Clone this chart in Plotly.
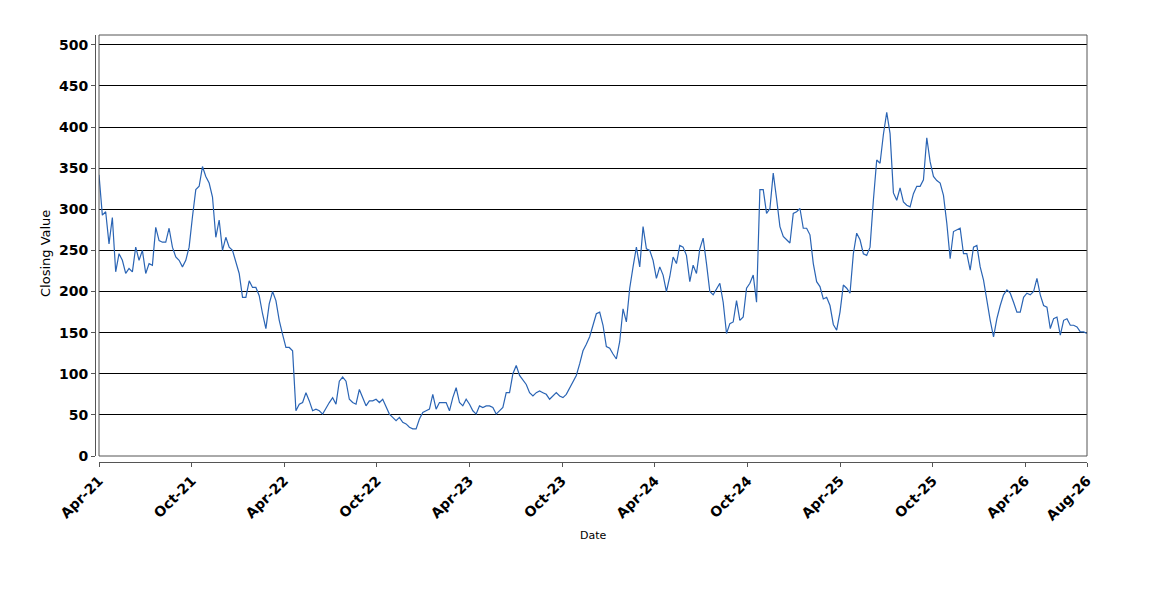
import pandas as pd
import plotly.graph_objects as go

# Closing values, evenly spaced from Apr-2021 to Aug-2026
closing_values = [
    # Apr-21 .. Jan-22
    342, 293, 297, 258, 290, 224, 246, 238, 222, 228, 224, 254, 238, 250, 222, 234,
    232, 278, 262, 260, 260, 277, 254, 242, 238, 230, 238, 254, 291, 324, 328, 352,
    340, 332, 315, 266, 287, 250, 266, 254, 250, 236, 222, 193, 193, 213, 205, 205,
    # Jan-22 .. Dec-22
    195, 173, 155, 185, 200, 189, 165, 148, 132, 132, 128, 55, 63, 65, 77, 67,
    55, 57, 55, 51, 59, 65, 71, 63, 91, 96, 91, 69, 65, 63, 81, 71,
    61, 67, 67, 69, 65, 69, 59, 51, 47, 43, 47, 41, 39, 35, 33, 33,
    45, 53, 55, 57,
    # Dec-22 .. Oct-23
    75, 57, 65, 65, 65, 55, 71, 83, 65, 61, 69, 63, 55, 51, 61, 59,
    61, 61, 59, 51, 55, 59, 77, 77, 100, 110, 98, 92, 87, 77, 73, 77,
    79, 77, 75, 69, 73, 77, 73, 71, 75, 83, 89, 98, 112, 128, 136, 145,
    159,
    # Oct-23 .. Nov-24
    173, 175, 159, 133, 131, 124, 118, 139, 179, 163, 204, 230, 254, 230, 279, 252,
    250, 238, 216, 230, 220, 200, 218, 242, 234, 256, 254, 244, 212, 232, 222, 252,
    265, 234, 200, 196, 204, 210, 187, 149, 161, 163, 189, 165, 169, 204, 210, 220,
    187, 324,
    # Nov-24 .. Sep-25
    324, 295, 301, 344, 313, 279, 267, 263, 259, 295, 297, 301, 277, 277, 269, 234,
    212, 206, 191, 193, 183, 160, 153, 175, 208, 204, 198, 246, 271, 263, 246, 244,
    254, 311, 360, 356, 391, 418, 392, 320, 311, 326, 309, 305, 303, 319, 328, 328,
    336,
    # Sep-25 .. Aug-26
    387, 358, 340, 335, 332, 317, 283, 240, 273, 275, 277, 246, 246, 226, 254, 256,
    230, 214, 189, 165, 145, 167, 183, 196, 202, 198, 187, 175, 175, 193, 198, 196,
    200, 216, 196, 183, 181, 155, 167, 169, 147, 165, 167, 159, 159, 157, 151, 151,
    149,
]

start_date = "2021-04-01"
end_date = "2026-08-01"

tick_dates = ["2021-04-01", "2021-10-01", "2022-04-01", "2022-10-01", "2023-04-01",
              "2023-10-01", "2024-04-01", "2024-10-01", "2025-04-01", "2025-10-01",
              "2026-04-01", "2026-08-01"]
tick_labels = ["Apr-21", "Oct-21", "Apr-22", "Oct-22", "Apr-23", "Oct-23",
               "Apr-24", "Oct-24", "Apr-25", "Oct-25", "Apr-26", "Aug-26"]
y_ticks = [0, 50, 100, 150, 200, 250, 300, 350, 400, 450, 500]

dates = pd.date_range(start_date, end_date, periods=len(closing_values))

W, H = 1150, 600
L, R, T, B = 95, 63, 35, 138
pw, ph = W - L - R, H - T - B

axis_col = "#555555"
tick_font = dict(family="DejaVu Sans", size=14, color="black", weight="bold")

fig = go.Figure(
    go.Scatter(x=dates, y=closing_values, mode="lines",
               line=dict(color="#2a64b4", width=1.2), hoverinfo="x+y")
)

fig.update_layout(
    width=W, height=H,
    margin=dict(l=L, r=R, t=T, b=B, pad=0),
    plot_bgcolor="white", paper_bgcolor="white",
    showlegend=False,
    xaxis=dict(
        domain=[4 / pw, 1], anchor="free", position=0,
        range=[start_date, end_date],
        tickvals=tick_dates, ticktext=tick_labels, tickangle=-45,
        showgrid=False, zeroline=False,
        showline=True, linecolor=axis_col, linewidth=1,
        ticks="outside", ticklen=4, tickcolor=axis_col,
        tickfont=tick_font,
    ),
    yaxis=dict(
        domain=[6 / ph, 1], anchor="free", position=0,
        range=[0, 512],
        tickvals=y_ticks,
        showgrid=True, gridcolor="black", gridwidth=1, zeroline=False,
        showline=True, linecolor=axis_col, linewidth=1,
        ticks="outside", ticklen=4, tickcolor=axis_col,
        tickfont=tick_font,
    ),
    shapes=[dict(type="rect", xref="x domain", yref="y domain",
                 x0=0, x1=1, y0=0, y1=1,
                 line=dict(color=axis_col, width=1), layer="above")],
    annotations=[
        dict(text="Closing Value", xref="paper", yref="paper",
             x=(45 - L) / pw, y=(H - B - 254) / ph, textangle=-90,
             showarrow=False, xanchor="center", yanchor="middle",
             font=dict(family="DejaVu Sans", size=13, color="black")),
        dict(text="Date", xref="paper", yref="paper",
             x=(593 - L) / pw, y=(H - B - 535) / ph,
             showarrow=False, xanchor="center", yanchor="middle",
             font=dict(family="DejaVu Sans", size=11, color="black")),
    ],
)

fig.write_html("out.html", config={"displayModeBar": False},
               post_script="document.body.style.margin='0';")
